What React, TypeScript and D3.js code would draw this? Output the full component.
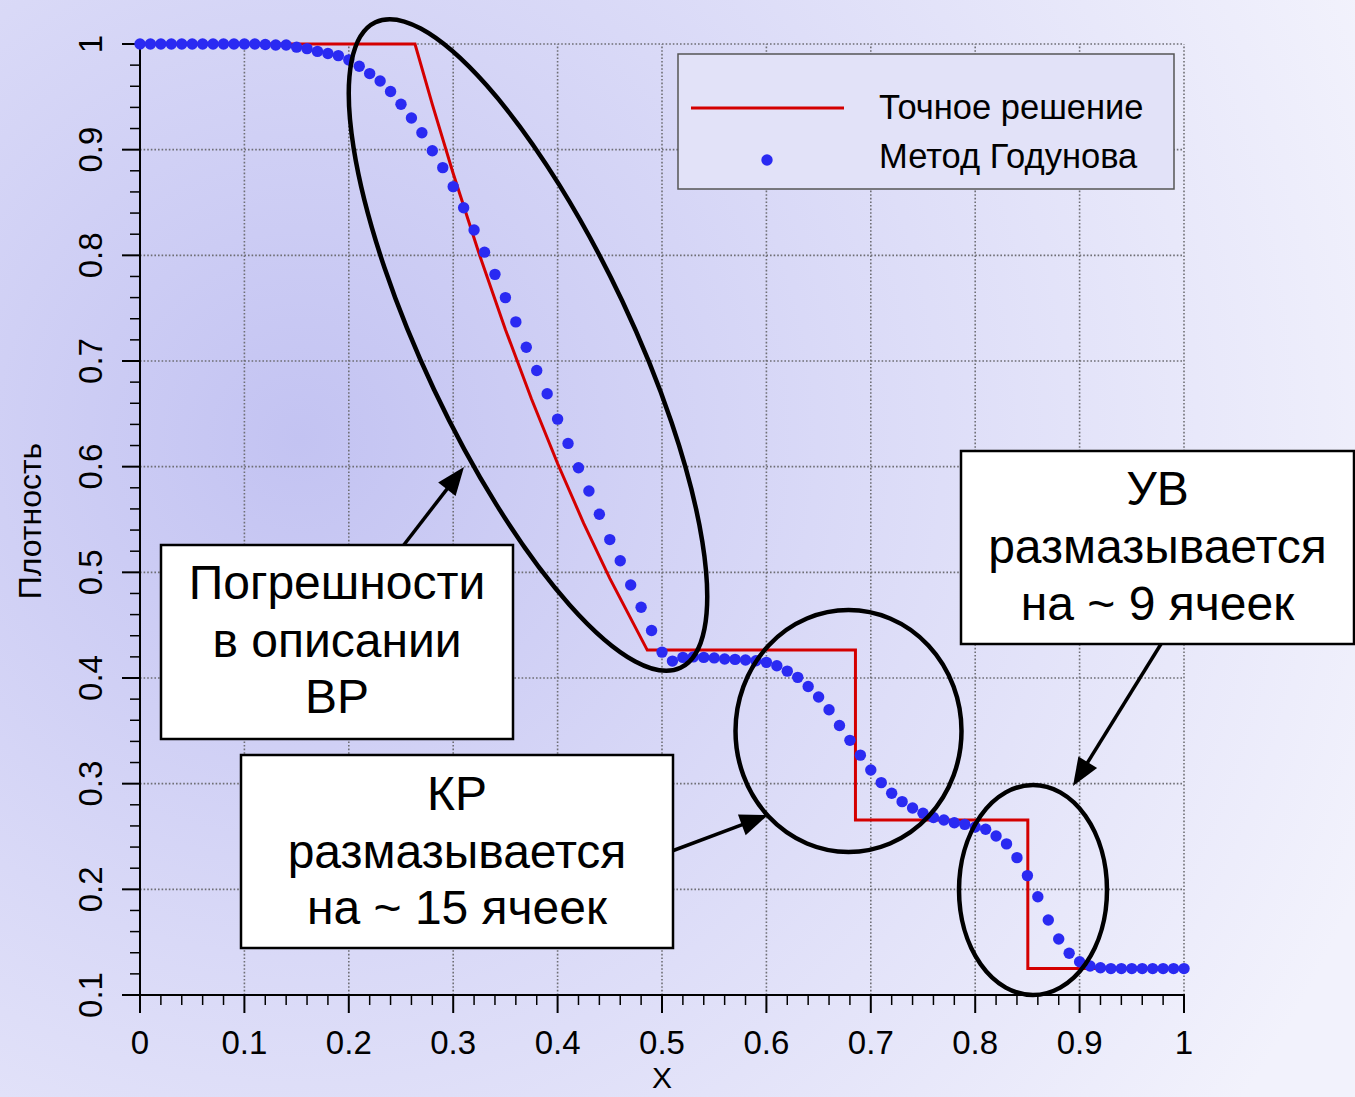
import React from "react";
import * as d3 from "d3";

// ---- data ----
const godunovX: number[] = d3.range(0, 101).map((i) => i / 100);
const godunovRho: number[] = [
  1.0, 1.0, 1.0, 1.0, 1.0, 1.0, 1.0, 1.0, 1.0, 1.0,
  1.0, 1.0, 0.9995, 0.999, 0.999, 0.997, 0.9956, 0.993, 0.991, 0.989,
  0.985, 0.979, 0.972, 0.965, 0.955, 0.943, 0.93, 0.916, 0.899, 0.883,
  0.865, 0.845, 0.824, 0.803, 0.782, 0.76, 0.737, 0.713, 0.691, 0.669,
  0.645, 0.622, 0.599, 0.577, 0.555, 0.531, 0.511, 0.488, 0.467, 0.445,
  0.4245, 0.416, 0.4195, 0.42, 0.4195, 0.419, 0.418, 0.4176, 0.417, 0.4163,
  0.4148, 0.4116, 0.4065, 0.4006, 0.392, 0.382, 0.37, 0.355, 0.341, 0.327,
  0.313, 0.301, 0.291, 0.283, 0.277, 0.272, 0.268, 0.2656, 0.263, 0.2615,
  0.259, 0.2568, 0.2505, 0.243, 0.23, 0.213, 0.193, 0.171, 0.153, 0.1395,
  0.1315, 0.1274, 0.1258, 0.125, 0.125, 0.125, 0.125, 0.125, 0.125, 0.125,
  0.125,
];
const exactX: number[] = [0, 0.2634, 0.28, 0.3, 0.325, 0.35, 0.375, 0.4, 0.425, 0.45, 0.4859, 0.6853, 0.6853, 0.8504, 0.8504, 1.0];
const exactRho: number[] = [1, 1, 0.9428, 0.8775, 0.801, 0.7299, 0.664, 0.603, 0.5464, 0.4943, 0.4264, 0.4264, 0.2656, 0.2656, 0.125, 0.125];
const xTicks: number[] = [0, 0.1, 0.2, 0.3, 0.4, 0.5, 0.6, 0.7, 0.8, 0.9, 1];
const xTickLabels: string[] = ["0", "0.1", "0.2", "0.3", "0.4", "0.5", "0.6", "0.7", "0.8", "0.9", "1"];
const yTicks: number[] = [0.1, 0.2, 0.3, 0.4, 0.5, 0.6, 0.7, 0.8, 0.9, 1];
const yTickLabels: string[] = ["0.1", "0.2", "0.3", "0.4", "0.5", "0.6", "0.7", "0.8", "0.9", "1"];
const legendLabels: string[] = ["Точное решение", "Метод Годунова"];
const xTitle = "X";
const yTitle = "Плотность";
const note1: string[] = ["Погрешности", "в описании", "ВР"];
const note2: string[] = ["КР", "размазывается", "на ~ 15 ячеек"];
const note3: string[] = ["УВ", "размазывается", "на ~ 9 ячеек"];

const W = 1355;
const H = 1097;
const FONT = "'Liberation Sans', Arial, sans-serif";

const x = d3.scaleLinear().domain([0, 1]).range([140, 1184]);
const y = d3.scaleLinear().domain([0.1, 1]).range([995, 44]);

function Arrow({ x1, y1, x2, y2 }: { x1: number; y1: number; x2: number; y2: number }) {
  const dx = x2 - x1, dy = y2 - y1;
  const L = Math.hypot(dx, dy);
  const ux = dx / L, uy = dy / L;
  const hl = 28, hw = 11;
  const bx = x2 - ux * hl, by = y2 - uy * hl;
  const pts = [
    [x2, y2],
    [bx - uy * hw, by + ux * hw],
    [bx + uy * hw, by - ux * hw],
  ];
  return (
    <g>
      <line x1={x1} y1={y1} x2={bx + ux * 2} y2={by + uy * 2} stroke="#000" strokeWidth={3.5} />
      <polygon points={pts.map((p) => p.join(",")).join(" ")} fill="#000" />
    </g>
  );
}

function NoteBox({ x0, y0, w, h, lines, baselines }: { x0: number; y0: number; w: number; h: number; lines: string[]; baselines: number[] }) {
  return (
    <g>
      <rect x={x0} y={y0} width={w} height={h} fill="#fff" stroke="#000" strokeWidth={2.5} />
      {lines.map((t, i) => (
        <text key={i} x={x0 + w / 2} y={baselines[i]} textAnchor="middle" fontFamily={FONT} fontSize={48} fill="#000">
          {t}
        </text>
      ))}
    </g>
  );
}

export default function App() {
  const line = d3
    .line<number>()
    .x((_, i) => x(exactX[i]))
    .y((d) => y(d));
  const xMinor = d3.range(0, 51).map((i) => i / 50);
  const yMinor = d3.range(5, 51).map((i) => i / 50);
  const gridColor = "#6e6e74";

  return (
    <svg width={W} height={H} style={{ position: "absolute", left: 0, top: 0, display: "block" }}>
      <defs>
        <radialGradient id="bg" cx={300} cy={440} r={1150} gradientUnits="userSpaceOnUse">
          <stop offset="0" stopColor="#c3c3f2" />
          <stop offset="0.45" stopColor="#d9d9f7" />
          <stop offset="1" stopColor="#f2f2fc" />
        </radialGradient>
      </defs>
      <rect x={0} y={0} width={W} height={H} fill="url(#bg)" />

      {/* grid */}
      <g stroke={gridColor} strokeWidth={1.6} strokeDasharray="1.6 2">
        {xTicks.filter((t) => t > 0).map((t) => (
          <line key={"gx" + t} x1={x(t)} x2={x(t)} y1={y(0.1)} y2={y(1)} />
        ))}
        {yTicks.filter((t) => t > 0.1).map((t) => (
          <line key={"gy" + t} x1={x(0)} x2={x(1)} y1={y(t)} y2={y(t)} />
        ))}
      </g>

      {/* axes */}
      <line x1={x(0)} x2={x(0)} y1={y(0.1) + 1} y2={y(1)} stroke="#000" strokeWidth={2} />
      <line x1={x(0) - 1} x2={x(1) + 1} y1={y(0.1)} y2={y(0.1)} stroke="#000" strokeWidth={2} />
      {xMinor.map((t, i) => (
        <line key={"xt" + i} x1={x(t)} x2={x(t)} y1={y(0.1)} y2={y(0.1) + (i % 5 === 0 ? 18 : 10)} stroke="#000" strokeWidth={i % 5 === 0 ? 2 : 1.5} />
      ))}
      {yMinor.map((t, i) => (
        <line key={"yt" + i} x1={x(0)} x2={x(0) - (i % 5 === 0 ? 18 : 10)} y1={y(t)} y2={y(t)} stroke="#000" strokeWidth={i % 5 === 0 ? 2 : 1.5} />
      ))}
      {xTicks.map((t, i) => (
        <text key={"xl" + i} x={x(t)} y={1054} textAnchor="middle" fontFamily={FONT} fontSize={33} fill="#000">
          {xTickLabels[i]}
        </text>
      ))}
      {yTicks.map((t, i) => (
        <text key={"yl" + i} x={102} y={y(t)} transform={`rotate(-90 102 ${y(t)})`} textAnchor="middle" fontFamily={FONT} fontSize={33} fill="#000">
          {yTickLabels[i]}
        </text>
      ))}
      <text x={662} y={1088} textAnchor="middle" fontFamily={FONT} fontSize={30} fill="#000">{xTitle}</text>
      <text x={41} y={521} transform="rotate(-90 41 521)" textAnchor="middle" fontFamily={FONT} fontSize={32} fill="#000">{yTitle}</text>

      {/* exact solution */}
      <path d={line(exactRho) || ""} fill="none" stroke="#d40000" strokeWidth={3} />
      {/* Godunov */}
      {godunovRho.map((v, i) => (
        <circle key={"d" + i} cx={x(godunovX[i])} cy={y(v)} r={5.7} fill="#2a2af2" />
      ))}

      {/* legend */}
      <rect x={678} y={54} width={496} height={135} fill="#e2e2f8" stroke="#555" strokeWidth={1.5} />
      <line x1={691} x2={844} y1={108} y2={108} stroke="#d40000" strokeWidth={3} />
      <circle cx={767} cy={160} r={5.7} fill="#2a2af2" />
      <text x={879} y={119} fontFamily={FONT} fontSize={34.5} fill="#000">{legendLabels[0]}</text>
      <text x={879} y={168} fontFamily={FONT} fontSize={34.5} fill="#000">{legendLabels[1]}</text>

      {/* annotations */}
      <g fill="none" stroke="#000" strokeWidth={4.5}>
        <ellipse cx={528} cy={345} rx={357} ry={104} transform="rotate(64.7 528 345)" />
        <ellipse cx={848.5} cy={731} rx={113} ry={121} />
        <ellipse cx={1033} cy={890} rx={74} ry={105} />
      </g>
      <Arrow x1={403} y1={546} x2={464} y2={467} />
      <Arrow x1={672} y1={851} x2={768} y2={815} />
      <Arrow x1={1161} y1={644} x2={1073} y2={786} />
      <NoteBox x0={161} y0={545} w={352} h={194} lines={note1} baselines={[599, 657, 713]} />
      <NoteBox x0={241} y0={755} w={432} h={193} lines={note2} baselines={[810, 868, 924]} />
      <NoteBox x0={961} y0={451} w={393} h={193} lines={note3} baselines={[505, 563, 620]} />
    </svg>
  );
}
